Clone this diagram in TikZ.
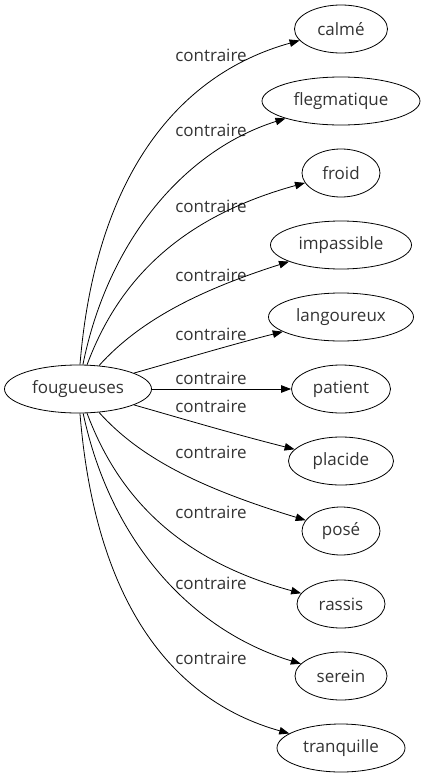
\documentclass[tikz,border=0pt]{standalone}
\usepackage{fontspec}
\setmainfont{Open Sans}
\usetikzlibrary{arrows.meta, shapes.geometric}
\tikzset{
  word/.style={ellipse, draw, line width=0.8pt, minimum height=48pt,
               inner sep=0pt, text=black!80, font=\fontsize{17}{20}\selectfont},
  rel/.style={inner sep=0pt, text=black!80, font=\fontsize{17}{20}\selectfont},
  link/.style={-{Triangle[length=10pt,width=7.5pt]}, line width=0.8pt},
}
\newcommand{\word}[4]{%
  \node[word, minimum width=#3] (#1) at #2 {#4};
}

\begin{document}
\begin{tikzpicture}[x=1pt, y=-1pt]
    \useasboundingbox (0,0) rectangle (423,779);
    \word{fou}{(78,389)}{147pt}{fougueuses}
    \word{calme}{(341,29)}{93pt}{calmé}
    \word{flegm}{(341,101)}{158pt}{flegmatique}
    \word{froid}{(341,173)}{78pt}{froid}
    \word{impas}{(341,245)}{141pt}{impassible}
    \word{langou}{(341,317)}{145pt}{langoureux}
    \word{patient}{(341,389)}{99pt}{patient}
    \word{placide}{(341,461)}{105pt}{placide}
    \word{pose}{(341,531)}{78pt}{posé}
    \word{rassis}{(341,604)}{88pt}{rassis}
    \word{serein}{(341,676)}{92pt}{serein}
    \word{tranq}{(341,748)}{128pt}{tranquille}
    % relation labels
    \node[rel] (r1) at (211,55) {contraire};
    \node[rel] (r2) at (211,130) {contraire};
    \node[rel] (r3) at (211,206) {contraire};
    \node[rel] (r4) at (211,275) {contraire};
    \node[rel] (r5) at (211,334) {contraire};
    \node[rel] (r6) at (211,378) {contraire};
    \node[rel] (r7) at (211,406) {contraire};
    \node[rel] (r8) at (211,452) {contraire};
    \node[rel] (r9) at (211,512) {contraire};
    \node[rel] (r10) at (211,583) {contraire};
    \node[rel] (r11) at (211,658) {contraire};
    % edges
    \draw[link] (fou) .. controls (95,180) and (175,75) .. (calme);
    \draw[link] (fou) .. controls (108,240) and (185,150) .. (flegm);
    \draw[link] (fou) .. controls (115,290) and (170,220) .. (froid);
    \draw[link] (fou) .. controls (140,320) and (200,290) .. (impas);
    \draw[link] (fou) .. controls (180,360) and (230,345) .. (langou);
    \draw[link] (fou) -- (patient);
    \draw[link] (fou) .. controls (180,418) and (230,433) .. (placide);
    \draw[link] (fou) .. controls (140,458) and (200,488) .. (pose);
    \draw[link] (fou) .. controls (115,488) and (170,558) .. (rassis);
    \draw[link] (fou) .. controls (110,540) and (190,630) .. (serein);
    \draw[link] (fou) .. controls (95,600) and (170,700) .. (tranq);
\end{tikzpicture}
\end{document}
